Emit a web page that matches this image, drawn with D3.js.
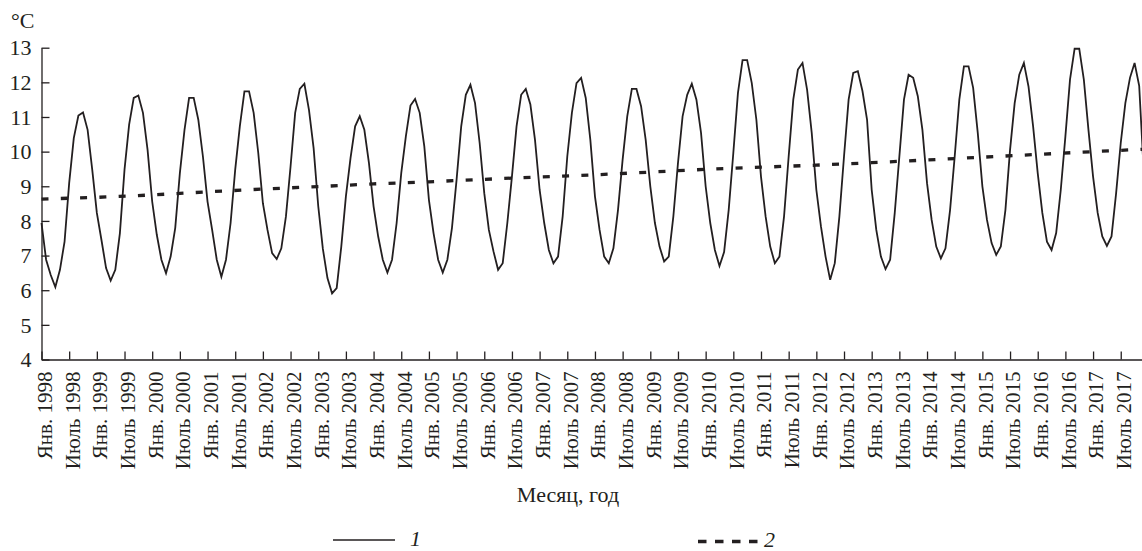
<!DOCTYPE html>
<html>
<head>
<meta charset="utf-8">
<script src="https://cdn.jsdelivr.net/npm/d3@7"></script>
<style>
  html, body { margin: 0; padding: 0; background: #fff; }
  svg { display: block; }
</style>
</head>
<body>
<svg id="chart" width="1142" height="551"></svg>
<script>
// ---- data ----
const years = [1998,1999,2000,2001,2002,2003,2004,2005,2006,2007,2008,2009,2010,2011,2012,2013,2014,2015,2016,2017];
const monthNames = ["Янв.", "Июль"];
// monthly temperature, series 1 (Jan..Dec for each year)
const temps = [
  7.94, 6.88, 6.44, 6.09, 6.59, 7.40, 9.09, 10.39, 11.04, 11.13, 10.63, 9.48,   // 1998
  8.23, 7.45, 6.64, 6.28, 6.59, 7.65, 9.48, 10.78, 11.55, 11.62, 11.12, 10.05,  // 1999
  8.56, 7.60, 6.88, 6.49, 6.97, 7.80, 9.38, 10.62, 11.55, 11.55, 10.92, 9.86,   // 2000
  8.56, 7.74, 6.88, 6.39, 6.88, 7.94, 9.48, 10.73, 11.74, 11.74, 11.12, 9.96,   // 2001
  8.51, 7.74, 7.07, 6.90, 7.21, 8.13, 9.57, 11.12, 11.81, 11.96, 11.20, 10.10,  // 2002
  8.43, 7.20, 6.35, 5.91, 6.06, 7.26, 8.71, 9.81, 10.73, 11.02, 10.63, 9.67,    // 2003
  8.42, 7.55, 6.88, 6.51, 6.88, 7.94, 9.38, 10.44, 11.33, 11.52, 11.12, 10.15,  // 2004
  8.61, 7.65, 6.88, 6.51, 6.88, 7.80, 9.19, 10.73, 11.64, 11.93, 11.40, 10.25,  // 2005
  8.80, 7.74, 7.12, 6.59, 6.78, 7.94, 9.28, 10.73, 11.64, 11.81, 11.36, 10.34,  // 2006
  8.90, 7.94, 7.16, 6.78, 6.97, 8.13, 9.86, 11.12, 11.98, 12.13, 11.55, 10.34,  // 2007
  8.71, 7.74, 6.97, 6.78, 7.21, 8.32, 9.77, 11.02, 11.81, 11.81, 11.31, 10.34,  // 2008
  9.00, 7.94, 7.26, 6.83, 6.97, 8.13, 9.67, 11.02, 11.64, 11.96, 11.50, 10.54,  // 2009
  9.00, 7.94, 7.16, 6.70, 7.10, 8.32, 9.96, 11.69, 12.64, 12.64, 11.98, 10.92,  // 2010
  9.28, 8.13, 7.26, 6.78, 6.97, 8.13, 9.86, 11.50, 12.37, 12.56, 11.78, 10.54,  // 2011
  8.90, 7.84, 6.97, 6.30, 6.78, 8.13, 9.86, 11.50, 12.27, 12.32, 11.75, 10.92,  // 2012
  8.90, 7.74, 6.97, 6.61, 6.88, 8.23, 9.86, 11.50, 12.22, 12.13, 11.60, 10.63,  // 2013
  9.09, 8.03, 7.26, 6.92, 7.21, 8.32, 9.86, 11.50, 12.46, 12.46, 11.84, 10.54,  // 2014
  9.00, 8.03, 7.36, 7.02, 7.26, 8.32, 10.05, 11.40, 12.22, 12.56, 11.88, 10.73, // 2015
  9.38, 8.23, 7.40, 7.16, 7.65, 8.90, 10.44, 12.08, 12.97, 12.97, 12.08, 10.63, // 2016
  9.28, 8.23, 7.55, 7.28, 7.55, 8.80, 10.25, 11.40, 12.13, 12.56, 11.90, 9.40   // 2017
];
// trend, series 2 (month index from Jan 1998, value)
const trendIdx  = [0, 12, 24, 36, 48, 60, 72, 84, 96, 108, 120, 132, 144, 156, 168, 180, 192, 204, 216, 228, 239];
const trendVals = [8.63, 8.68, 8.75, 8.84, 8.92, 8.99, 9.07, 9.13, 9.20, 9.27, 9.33, 9.41, 9.49, 9.55, 9.61, 9.68, 9.76, 9.84, 9.92, 10.00, 10.07];
const yTicks = [4,5,6,7,8,9,10,11,12,13];
const legendLabels = ["1", "2"];

// ---- layout ----
const FONT = "'Liberation Serif', Tinos, 'Times New Roman', 'DejaVu Serif', serif";
const svg = d3.select("#chart").attr("font-family", FONT);
const ink = "#231f20";
const x = d3.scaleLinear().domain([0, 239]).range([41.5, 1143.8]);
const y = d3.scaleLinear().domain([4, 13]).range([359.5, 47.7]);

const xTickVals = d3.range(0, 235, 6);
const xTickLabel = i => monthNames[(i % 12) / 6] + " " + years[Math.floor(i / 12)];

// y axis
const yAxis = d3.axisLeft(y).tickValues(yTicks).tickSizeInner(-8).tickSizeOuter(0).tickPadding(10).tickFormat(d3.format("d"));
const gy = svg.append("g").attr("transform", "translate(41.5,0)").call(yAxis);
gy.attr("font-family", FONT).attr("font-size", 22);
gy.selectAll("text").attr("fill", ink).attr("dy", "0.33em");
gy.selectAll("line, path").attr("stroke", ink).attr("stroke-width", 1.3);

// x axis
const xAxis = d3.axisBottom(x).tickValues(xTickVals).tickSizeInner(-8).tickSizeOuter(0).tickFormat(xTickLabel);
const gx = svg.append("g").attr("transform", "translate(0,359.5)").call(xAxis);
gx.attr("font-family", FONT).attr("font-size", 21);
gx.selectAll("line, path").attr("stroke", ink).attr("stroke-width", 1.3);
gx.selectAll("text")
  .attr("fill", ink)
  .attr("text-anchor", "end")
  .attr("transform", "rotate(-90)")
  .attr("x", -12).attr("y", 0).attr("dy", "0.47em");

// unit label
svg.append("text").attr("x", 11).attr("y", 28).attr("font-size", 22).attr("fill", ink).text("°C");

// axis title
svg.append("text").attr("x", 568).attr("y", 502).attr("text-anchor", "middle").attr("font-size", 22).attr("fill", ink).text("Месяц, год");

// series 1
const line = d3.line().x((d, i) => x(i)).y(d => y(d));
svg.append("path").datum(temps).attr("d", line)
  .attr("fill", "none").attr("stroke", ink).attr("stroke-width", 1.8).attr("stroke-linejoin", "miter");

// series 2 (trend)
const tline = d3.line().x(d => x(d[0])).y(d => y(d[1]));
svg.append("path").datum(trendIdx.map((d, i) => [d, trendVals[i]])).attr("d", tline)
  .attr("fill", "none").attr("stroke", ink).attr("stroke-width", 3.3).attr("stroke-dasharray", "7,12.3");

// legend
const lg = svg.append("g");
lg.append("line").attr("x1", 333).attr("x2", 395).attr("y1", 540).attr("y2", 540).attr("stroke", ink).attr("stroke-width", 1.6);
lg.append("text").attr("x", 410).attr("y", 546).attr("font-size", 22).attr("font-style", "italic").attr("fill", ink).text(legendLabels[0]);
lg.append("line").attr("x1", 698).attr("x2", 762).attr("y1", 541.5).attr("y2", 541.5).attr("stroke", ink).attr("stroke-width", 3.3).attr("stroke-dasharray", "8.5,8.5");
lg.append("text").attr("x", 764).attr("y", 547).attr("font-size", 22).attr("font-style", "italic").attr("fill", ink).text(legendLabels[1]);
</script>
</body>
</html>
